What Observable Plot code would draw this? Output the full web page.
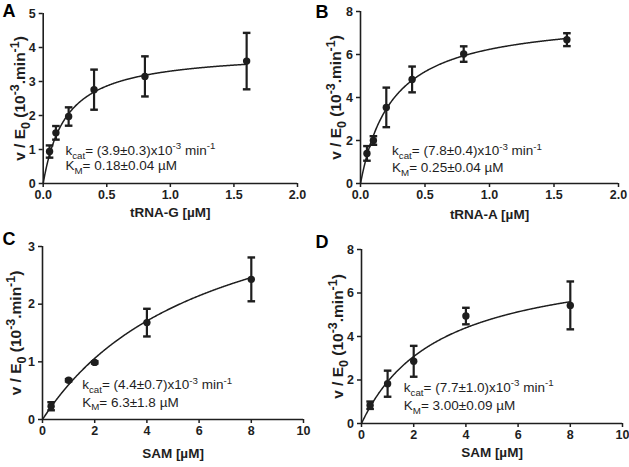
<!DOCTYPE html>
<html><head><meta charset="utf-8">
<script src="https://cdn.jsdelivr.net/npm/d3@7"></script>
<script src="https://cdn.jsdelivr.net/npm/@observablehq/plot@0.6"></script>
<style>
body{margin:0;background:#fff;}
#root{position:relative;width:629px;height:467px;overflow:hidden;background:#fff;}
.panel{position:absolute;}
</style></head><body><div id="root"></div>
<script>
// ---------- DATA ----------
const panelLetters = ["A", "B", "C", "D"];
const yLabel = "v / E_{0} (10^{-3}.min^{-1})";

// Panel A: tRNA-G
const substrateA = [0.05, 0.1, 0.2, 0.4, 0.8, 1.6];
const rateA = [0.94, 1.49, 1.97, 2.76, 3.15, 3.6];
const errA = [0.18, 0.2, 0.27, 0.59, 0.59, 0.83];
const kcatA = 3.9, kmA = 0.18;
const xLabelA = "tRNA-G [µM]";
const kcatTextA = "k_{cat}= (3.9±0.3)x10^{-3} min^{-1}";
const kmTextA = "K_{M}= 0.18±0.04 µM";
const xTicksA = [0, 0.5, 1, 1.5, 2];
const yTicksA = [0, 1, 2, 3, 4, 5];

// Panel B: tRNA-A
const substrateB = [0.05, 0.1, 0.2, 0.4, 0.8, 1.6];
const rateB = [1.4, 2.0, 3.54, 4.84, 6.02, 6.69];
const errB = [0.34, 0.2, 0.92, 0.6, 0.36, 0.3];
const kcatB = 7.8, kmB = 0.25;
const xLabelB = "tRNA-A [µM]";
const kcatTextB = "k_{cat}= (7.8±0.4)x10^{-3} min^{-1}";
const kmTextB = "K_{M}= 0.25±0.04 µM";
const xTicksB = [0, 0.5, 1, 1.5, 2];
const yTicksB = [0, 2, 4, 6, 8];

// Panel C: SAM
const substrateC = [0.33, 1, 2, 4, 8];
const rateC = [0.23, 0.68, 0.99, 1.68, 2.43];
const errC = [0.07, 0.02, 0.02, 0.24, 0.38];
const kcatC = 4.4, kmC = 6.3;
const xLabelC = "SAM [µM]";
const kcatTextC = "k_{cat}= (4.4±0.7)x10^{-3} min^{-1}";
const kmTextC = "K_{M}= 6.3±1.8 µM";
const xTicksC = [0, 2, 4, 6, 8, 10];
const yTicksC = [0, 1, 2, 3];

// Panel D: SAM
const substrateD = [0.33, 1, 2, 4, 8];
const rateD = [0.84, 1.83, 2.86, 4.94, 5.43];
const errD = [0.17, 0.6, 0.71, 0.38, 1.1];
const kcatD = 7.7, kmD = 3.0;
const xLabelD = "SAM [µM]";
const kcatTextD = "k_{cat}= (7.7±1.0)x10^{-3} min^{-1}";
const kmTextD = "K_{M}= 3.00±0.09 µM";
const xTicksD = [0, 2, 4, 6, 8, 10];
const yTicksD = [0, 2, 4, 6, 8];

// ---------- PANELS ----------
const panels = [
  {letter: panelLetters[0], sx: substrateA, v: rateA, e: errA, kcat: kcatA, km: kmA, xLabel: xLabelA, ann: [kcatTextA, kmTextA], xTicks: xTicksA, yTicks: yTicksA, xFmt: d3.format(".1f"), xDomain: [0, 2], yDomain: [0, 5]},
  {letter: panelLetters[1], sx: substrateB, v: rateB, e: errB, kcat: kcatB, km: kmB, xLabel: xLabelB, ann: [kcatTextB, kmTextB], xTicks: xTicksB, yTicks: yTicksB, xFmt: d3.format(".1f"), xDomain: [0, 2], yDomain: [0, 8]},
  {letter: panelLetters[2], sx: substrateC, v: rateC, e: errC, kcat: kcatC, km: kmC, xLabel: xLabelC, ann: [kcatTextC, kmTextC], xTicks: xTicksC, yTicks: yTicksC, xFmt: d3.format("d"), xDomain: [0, 10], yDomain: [0, 3]},
  {letter: panelLetters[3], sx: substrateD, v: rateD, e: errD, kcat: kcatD, km: kmD, xLabel: xLabelD, ann: [kcatTextD, kmTextD], xTicks: xTicksD, yTicks: yTicksD, xFmt: d3.format("d"), xDomain: [0, 10], yDomain: [0, 8]}
];

// layout (pixels) and annotation anchors (data units)
const layout = [
  {left: 0,   top: 0,   width: 314, height: 230, ml: 42.7, mr: 17, mt: 13, mb: 47, ylDx: -22.7, xlDy: 29, letDx: -40.7, letDy: -2, annX: 0.175, annY: [0.97, 0.53]},
  {left: 314, top: 0,   width: 315, height: 230, ml: 46,   mr: 11, mt: 11, mb: 47, ylDx: -24,   xlDy: 31, letDx: -45,   letDy: 0.5, annX: 0.245, annY: [1.51, 0.74]},
  {left: 0,   top: 230, width: 314, height: 237, ml: 42,   mr: 11, mt: 16, mb: 48, ylDx: -26,   xlDy: 34, letDx: -40,   letDy: -7, annX: 1.52, annY: [0.6, 0.3]},
  {left: 314, top: 230, width: 315, height: 237, ml: 47,   mr: 7,  mt: 19, mb: 44, ylDx: -23,   xlDy: 29, letDx: -46,   letDy: -7, annX: 1.62, annY: [1.66, 0.83]}
];

const INK = "#1e1e1e";
const FONT = "'Liberation Sans', Arial, sans-serif";
const ANN_SIZE = 13.5, YLAB_SIZE = 15.5;

// horizontal cap symbol for error bars
const capSymbol = {
  draw(context, size) {
    const w = Math.sqrt(size / Math.PI);
    context.moveTo(-w, 0);
    context.lineTo(w, 0);
  }
};

function richify(textEl, base, scale) {
  const src = textEl.textContent;
  const re = /([_^])\{([^}]*)\}/g;
  const parts = [];
  let last = 0, m;
  while ((m = re.exec(src))) {
    if (m.index > last) parts.push({t: src.slice(last, m.index), k: ""});
    parts.push({t: m[2], k: m[1]});
    last = re.lastIndex;
  }
  if (last < src.length) parts.push({t: src.slice(last), k: ""});
  if (parts.length <= 1) return;
  textEl.textContent = "";
  let shift = 0;
  for (const p of parts) {
    const ts = document.createElementNS("http://www.w3.org/2000/svg", "tspan");
    const target = p.k === "_" ? 0.28 * base : p.k === "^" ? -0.42 * base : 0;
    ts.setAttribute("dy", (target - shift).toFixed(2));
    shift = target;
    if (p.k) ts.setAttribute("font-size", (scale * base).toFixed(2));
    ts.textContent = p.t;
    textEl.appendChild(ts);
  }
}

const root = document.getElementById("root");

panels.forEach((p, i) => {
  const L = layout[i];
  const pts = p.sx.map((s, j) => ({s, v: p.v[j], lo: p.v[j] - p.e[j], hi: p.v[j] + p.e[j]}));
  const smax = d3.max(p.sx);
  const curve = d3.range(0, 401).map(k => {
    const s = smax * k / 400;
    return {s, v: p.kcat * s / (p.km + s)};
  });
  const chart = Plot.plot({
    width: L.width, height: L.height,
    marginLeft: L.ml, marginRight: L.mr, marginTop: L.mt, marginBottom: L.mb,
    style: {fontFamily: FONT, color: INK, background: "white", overflow: "visible"},
    x: {domain: p.xDomain},
    y: {domain: p.yDomain},
    marks: [
      Plot.axisX({ticks: p.xTicks, tickFormat: p.xFmt, tickSize: 4, tickPadding: 3, strokeWidth: 1.5, fontWeight: "bold", fontSize: 12.5, label: null}),
      Plot.axisY({ticks: p.yTicks, tickFormat: d3.format("d"), tickSize: 4, tickPadding: 3.5, strokeWidth: 1.5, fontWeight: "bold", fontSize: 12.5, label: null}),
      Plot.ruleY([p.yDomain[0]], {stroke: INK, strokeWidth: 1.6}),
      Plot.ruleX([p.xDomain[0]], {stroke: INK, strokeWidth: 1.6}),
      Plot.line(curve, {x: "s", y: "v", stroke: INK, strokeWidth: 1.5}),
      Plot.ruleX(pts, {x: "s", y1: "lo", y2: "hi", stroke: INK, strokeWidth: 2.2}),
      Plot.dot(pts, {x: "s", y: "lo", symbol: capSymbol, r: 3.8, stroke: INK, strokeWidth: 2.4, fill: "none"}),
      Plot.dot(pts, {x: "s", y: "hi", symbol: capSymbol, r: 3.8, stroke: INK, strokeWidth: 2.4, fill: "none"}),
      Plot.dot(pts, {x: "s", y: "v", r: 3.7, fill: INK, stroke: "none"}),
      Plot.text(p.ann, {x: () => L.annX, y: (d, j) => L.annY[j], text: d => d, textAnchor: "start", lineAnchor: "middle", fontSize: ANN_SIZE, fill: INK, className: "ann"}),
      Plot.text([p.xLabel], {frameAnchor: "bottom", dy: L.xlDy, text: d => d, textAnchor: "middle", lineAnchor: "middle", fontSize: 13.5, fontWeight: "bold", fill: INK}),
      Plot.text([yLabel], {frameAnchor: "left", dx: L.ylDx, rotate: -90, text: d => d, textAnchor: "middle", lineAnchor: "middle", fontSize: YLAB_SIZE, fontWeight: "bold", fill: INK, className: "ylab"}),
      Plot.text([p.letter], {frameAnchor: "top-left", dx: L.letDx, dy: L.letDy, text: d => d, textAnchor: "start", lineAnchor: "middle", fontSize: 18, fontWeight: "bold", fill: "#000"})
    ]
  });
  chart.classList.add("panel");
  chart.style.left = L.left + "px";
  chart.style.top = L.top + "px";
  root.appendChild(chart);
  chart.querySelectorAll("g.ann text").forEach(t => richify(t, ANN_SIZE, 0.72));
  chart.querySelectorAll("g.ylab text").forEach(t => richify(t, YLAB_SIZE, 0.8));
});
</script></body></html>
